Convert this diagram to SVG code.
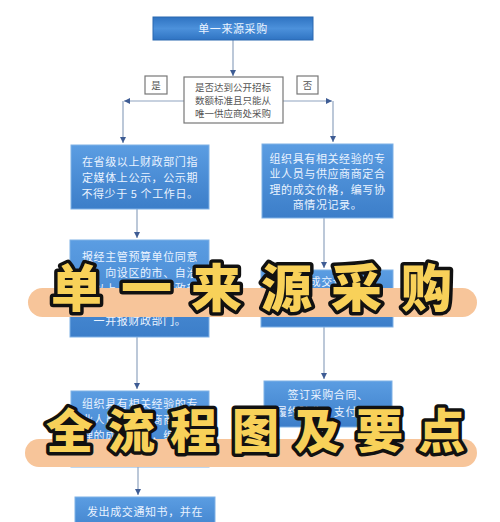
<svg xmlns="http://www.w3.org/2000/svg" width="500" height="522" viewBox="0 0 500 522">
<defs>
<linearGradient id="bg" x1="0" y1="0" x2="0" y2="1">
<stop offset="0" stop-color="#5B9DE2"/>
<stop offset="1" stop-color="#3C7EC9"/>
</linearGradient>
<linearGradient id="tg" x1="0" y1="0" x2="0" y2="1">
<stop offset="0" stop-color="#2F73C2"/>
<stop offset="0.5" stop-color="#4C91DB"/>
<stop offset="1" stop-color="#2F73C2"/>
</linearGradient>
<marker id="ah" markerWidth="8" markerHeight="8" refX="6" refY="3" orient="auto" markerUnits="userSpaceOnUse">
<path d="M0,0 L6,3 L0,6 Z" fill="#3E5C94"/>
</marker>
</defs>
<style>
.box{fill:url(#bg);stroke:#7FB1E6;stroke-width:1}
.t{font-family:"Noto Sans CJK SC","Noto Sans",sans-serif;font-size:11px;fill:#EAF3FF;text-anchor:middle;letter-spacing:0.6px}
.d{font-family:"Noto Sans CJK SC","Noto Sans",sans-serif;font-size:9.5px;fill:#555;text-anchor:middle}
.wb{fill:#fff;stroke:#777;stroke-width:1.2}
.c{fill:none;stroke:#8FA3BF;stroke-width:1.2}
.bar{fill:#F7C59A}
.big{font-family:"Noto Sans CJK SC",sans-serif;font-weight:900;fill:#F8D159;stroke:#111;stroke-width:7;stroke-linejoin:round;paint-order:stroke}
</style>
<rect width="500" height="522" fill="#fff"/>
<g id="connectors">
<path class="c" d="M233,40 V76" marker-end="url(#ah)"/>
<path class="c" d="M184,101 H124" marker-end="url(#ah)"/>
<path class="c" d="M123,101 V143" marker-end="url(#ah)"/>
<path class="c" d="M283,101 H332" marker-end="url(#ah)"/>
<path class="c" d="M333,101 V142" marker-end="url(#ah)"/>
<path class="c" d="M137,209 V238" marker-end="url(#ah)"/>
<path class="c" d="M137,337 V389" marker-end="url(#ah)"/>
<path class="c" d="M138,467 V495" marker-end="url(#ah)"/>
<path class="c" d="M324,218 V268" marker-end="url(#ah)"/>
<path class="c" d="M324,327 V379" marker-end="url(#ah)"/>
</g>
<g id="start">
<rect x="153" y="17" width="160" height="23" fill="url(#tg)" stroke="#2A68B0"/>
<text class="t" x="233" y="33" font-size="11.5">单一来源采购</text>
</g>
<g id="decision">
<rect class="wb" x="184" y="77" width="99" height="46"/>
<text class="d" x="233" y="91">是否达到公开招标</text>
<text class="d" x="233" y="104">数额标准且只能从</text>
<text class="d" x="233" y="117">唯一供应商处采购</text>
</g>
<g id="yes">
<rect class="wb" x="145" y="76" width="22" height="18"/>
<text class="d" x="156" y="89">是</text>
</g>
<g id="no">
<rect class="wb" x="297" y="76" width="21" height="18"/>
<text class="d" x="307.5" y="89">否</text>
</g>
<g id="left1">
<rect class="box" x="71" y="145" width="138" height="64"/>
<text class="t" x="140" y="166">在省级以上财政部门指</text>
<text class="t" x="140" y="182">定媒体上公示，公示期</text>
<text class="t" x="140" y="198">不得少于 5 个工作日。</text>
</g>
<g id="left2">
<rect class="box" x="70" y="240" width="139" height="97"/>
<text class="t" x="140" y="261">报经主管预算单位同意</text>
<text class="t" x="140" y="277">后，向设区的市、自治</text>
<text class="t" x="140" y="293">州以上人民政府财政部</text>
<text class="t" x="140" y="309">门申请，并将公示情况</text>
<text class="t" x="140" y="325">一并报财政部门。</text>
</g>
<g id="left3">
<rect class="box" x="71" y="391" width="138" height="76"/>
<text class="t" x="140" y="408">组织具有相关经验的专</text>
<text class="t" x="140" y="424">业人员与供应商商定合</text>
<text class="t" x="140" y="440">理的成交价格，编写协</text>
<text class="t" x="140" y="456">商情况记录。</text>
</g>
<g id="left4">
<rect class="box" x="75" y="497" width="140" height="40"/>
<text class="t" x="145" y="516">发出成交通知书，并在</text>
</g>
<g id="right1">
<rect class="box" x="262" y="144" width="131" height="74"/>
<text class="t" x="327.5" y="163">组织具有相关经验的专</text>
<text class="t" x="327.5" y="178">业人员与供应商商定合</text>
<text class="t" x="327.5" y="194">理的成交价格，编写协</text>
<text class="t" x="327.5" y="209">商情况记录。</text>
</g>
<g id="right2">
<rect class="box" x="261" y="270" width="132" height="57"/>
<text class="t" x="327" y="286">发出成交通知书</text>
</g>
<g id="right3">
<rect class="box" x="264" y="381" width="128" height="46"/>
<text class="t" x="328" y="399">签订采购合同、</text>
<text class="t" x="328" y="416">履约验收、支付资金</text>
</g>
<g id="banner1">
<rect class="bar" x="28" y="288" width="449" height="29" rx="14.5"/>
<text class="big" x="51" y="307" font-size="51" letter-spacing="19">单一来源采购</text>
</g>
<g id="banner2">
<rect class="bar" x="25" y="439" width="452" height="28" rx="14"/>
<text class="big" x="46" y="448" font-size="47" letter-spacing="15">全流程图及要点</text>
</g>
</svg>
